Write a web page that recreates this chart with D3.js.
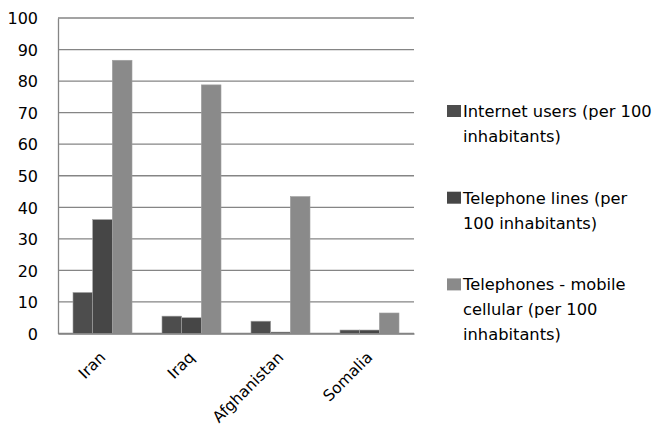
<!DOCTYPE html>
<html>
<head>
  <title>Internet and telephone use per 100 inhabitants</title>
  <script src="https://d3js.org/d3.v7.min.js"></script>
  <style>
    body { margin: 0; background: #fff; }
    text { font-family: "DejaVu Sans", sans-serif; fill: #000; }
  </style>
</head>
<body>
  <script>
    // chart data
    var countries = ['Iran', 'Iraq', 'Afghanistan', 'Somalia'];
    var series = ['Internet users (per 100 inhabitants)',
                  'Telephone lines (per 100 inhabitants)',
                  'Telephones - mobile cellular (per 100 inhabitants)'];
    var internetUsers = [13, 5.5, 3.9, 1.1];
    var telephoneLines = [36.1, 5.0, 0.45, 1.1];
    var mobileCellular = [86.6, 78.8, 43.4, 6.5];
    var yTicks = [0, 10, 20, 30, 40, 50, 60, 70, 80, 90, 100];
    // legend labels wrapped the way the original wraps them
    var legendLines = [
      ['Internet users (per 100', 'inhabitants)'],
      ['Telephone lines (per', '100 inhabitants)'],
      ['Telephones - mobile', 'cellular (per 100', 'inhabitants)']
    ];
    var colors = ['#4d4d4d', '#464646', '#8a8a8a'];

    var width = 654;
    var height = 430;
    var values = [internetUsers, telephoneLines, mobileCellular];

    var svg = d3.select('body')
          .append('svg')
          .attr('width', width)
          .attr('height', height);

    // plot area
    var plotLeft = 58, plotRight = 414, plotTop = 18, plotBottom = 333.5;

    var x = d3.scaleBand()
          .domain(countries)
          .range([plotLeft, plotRight])
          .paddingInner(0.337)
          .paddingOuter(0.337 / 2);

    var xSeries = d3.scaleBand()
          .domain(d3.range(series.length))
          .range([0, x.bandwidth()]);

    var y = d3.scaleLinear()
          .domain([0, 100])
          .range([plotBottom, plotTop]);

    // gridlines
    svg.append('g')
        .selectAll('line')
        .data(yTicks)
        .enter()
        .append('line')
        .attr('x1', plotLeft)
        .attr('x2', plotRight)
        .attr('y1', function (d) { return y(d); })
        .attr('y2', function (d) { return y(d); })
        .attr('stroke', '#858585')
        .attr('stroke-width', 1.3);

    // bars
    var bars = svg.append('g');
    values.forEach(function (vals, s) {
      bars.selectAll('rect.s' + s)
          .data(vals)
          .enter()
          .append('rect')
          .attr('class', 's' + s)
          .attr('x', function (d, i) { return x(countries[i]) + xSeries(s); })
          .attr('y', function (d) { return y(d); })
          .attr('width', xSeries.bandwidth())
          .attr('height', function (d) { return y(0) - y(d); })
          .attr('fill', colors[s])
          .attr('stroke', '#a0a0a0')
          .attr('stroke-width', 0.6);
    });

    // y axis
    var yAxis = svg.append('g')
          .attr('transform', 'translate(' + plotLeft + ',0)')
          .call(d3.axisLeft(y).tickValues(yTicks).tickSize(0).tickPadding(20));
    yAxis.select('.domain').attr('stroke', '#858585').attr('stroke-width', 1.3);
    yAxis.selectAll('text')
        .style('font-size', '16px')
        .attr('dy', '0.36em');

    // x axis, labels slanted at 45 degrees
    var xAxis = svg.append('g')
          .attr('transform', 'translate(0,' + plotBottom + ')')
          .call(d3.axisBottom(x).tickSize(0).tickPadding(0));
    xAxis.select('.domain').attr('stroke', '#858585').attr('stroke-width', 1.3);
    xAxis.selectAll('text')
        .style('font-size', '15.5px')
        .attr('text-anchor', 'end')
        .attr('dy', '0.35em')
        .attr('transform', 'translate(0,21) rotate(-45)');

    // legend
    var legend = svg.append('g')
          .attr('transform', 'translate(447,0)');
    var entry = legend.selectAll('g')
          .data(legendLines)
          .enter()
          .append('g')
          .attr('transform', function (d, i) { return 'translate(0,' + (117 + i * 86.7) + ')'; });
    entry.append('rect')
        .attr('x', 0)
        .attr('y', -12)
        .attr('width', 14)
        .attr('height', 12)
        .attr('fill', function (d, i) { return colors[i]; });
    entry.append('text')
        .style('font-size', '16.3px')
        .selectAll('tspan')
        .data(function (d) { return d; })
        .enter()
        .append('tspan')
        .attr('x', 16)
        .attr('y', function (d, i) { return i * 25; })
        .text(function (d) { return d; });
  </script>
</body>
</html>
